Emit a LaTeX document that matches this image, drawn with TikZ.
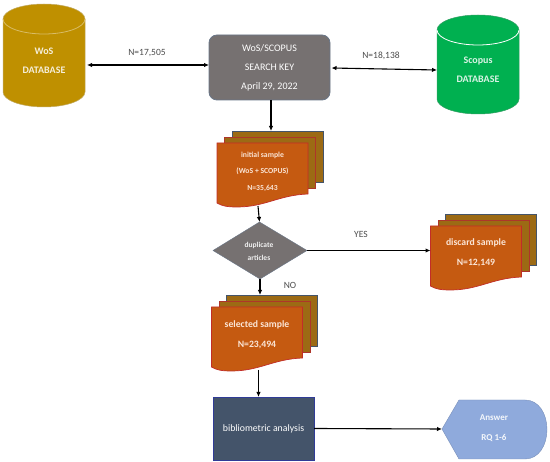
\documentclass[tikz,border=0pt]{standalone}
\usepackage{fontspec}
\setmainfont{Carlito}
\usetikzlibrary{arrows.meta}
\definecolor{wosgold}{HTML}{BF9000}
\definecolor{scopusgreen}{HTML}{00B050}
\definecolor{keygrey}{HTML}{767171}
\definecolor{sheetorange}{HTML}{C55A11}
\definecolor{sheetolive}{HTML}{9C6A14}
\definecolor{slateblue}{HTML}{44546A}
\definecolor{answerblue}{HTML}{8FAADC}
\definecolor{sheettext}{HTML}{FBE5D6}
\tikzset{
  anchorbox/.style={inner sep=0pt,outer sep=0pt},
  flowarrow/.style={line width=1.1pt,black,-{Latex[length=5pt,width=4.5pt]}},
  twoarrow/.style={line width=1.1pt,black,{Latex[length=5pt,width=4.5pt]}-{Latex[length=5pt,width=4.5pt]}},
  countlabel/.style={text=black!70,font=\fontsize{9.5}{11}\selectfont},
  boldwhite/.style={text=white,align=center,font=\fontsize{10}{19}\selectfont\bfseries},
  bigsheet/.style={text=sheettext,align=center,font=\fontsize{9.7}{20}\selectfont\bfseries},
}
\newcommand{\dbdrum}[6]{
\begin{scope}[xshift=#1pt,yshift=-#2pt]
    \draw[#4!75!black!80!#6,fill=#4,line width=0.5pt] (-#3,0) -- (-#3,#5) arc (180:360:#3 pt and 15pt) -- (#3,0) arc (0:180:#3 pt and 15pt);
    \draw[#6,line width=0.8pt] (-#3,0) arc (180:360:#3 pt and 15pt);
\end{scope}
}
\newcommand{\sheetrect}[3]{
\draw[#3,fill=sheetolive,line width=0.7pt] (#1,#2) rectangle ++(91,51);
}
\newcommand{\sheetstack}[3]{
\sheetrect{#1+15}{#2-12}{slateblue}
\sheetrect{#1+7.5}{#2-6}{purple!50!sheetolive}
\begin{scope}[xshift=#1pt,yshift=-#2pt]
    \draw[purple!50!sheetorange,fill=sheetorange,line width=0.7pt] (0,0) -- (91,0) -- (91,51) .. controls (62,52) and (48,64) .. (20,64) .. controls (10,64) and (5,63) .. (0,60) -- cycle;
    \node[anchorbox,minimum width=91pt,minimum height=63pt] (#3) at (45.5,31.5) {};
\end{scope}
\node[anchorbox,minimum width=91pt,minimum height=51pt] (#3back) at (#1+60.5,#2+13.5) {};
}

\begin{document}
\begin{tikzpicture}[x=1pt,y=-1pt]
    \useasboundingbox (0,0) rectangle (550,462);
    % databases
    \dbdrum{44}{19}{41}{wosgold}{73}{wosgold!60!white}
    \dbdrum{478}{30}{41}{scopusgreen}{69}{white}
    \node[anchorbox,minimum width=82pt,minimum height=103pt] (wos) at (44,55.5) {};
    \node[anchorbox,minimum width=82pt,minimum height=101pt] (scopus) at (478,63.5) {};
    \node[boldwhite,text=wosgold!15!white] (wostext) at (44,60.5) {WoS\\DATABASE};
    \node[boldwhite,text=white!85!scopusgreen] (scopustext) at (478,69.5) {Scopus\\DATABASE};
    % search key
    \node[anchorbox,draw=slateblue!80,fill=keygrey,rounded corners=8pt,thick,minimum width=121pt,minimum height=65pt,
        text=white,align=center,font=\fontsize{10}{19}\selectfont] (searchkey) at (269.5,67.5) {WoS/SCOPUS\\SEARCH KEY\\April 29, 2022};
    \draw[twoarrow] ([yshift=-9.5pt,xshift=2pt]wos.east) -- ([yshift=-9.5pt]wos.east -| searchkey.west);
    \draw[twoarrow] ([yshift=-0.5pt,xshift=1.5pt]searchkey.east) -- ([yshift=-6.5pt]scopus.west);
    \node[countlabel] (wosn) at (147,53) {N=17,505};
    \node[countlabel] (scopusn) at (381,56) {N=18,138};
    % samples
    \sheetstack{217}{143}{initial}
    \sheetstack{430.5}{226}{discard}
    \sheetstack{211.5}{307}{selected}
    \node[text=sheettext,align=center,font=\fontsize{7.7}{16.5}\selectfont\bfseries] (initialtext) at (262.5,171.5) {initial sample\\(WoS + SCOPUS)\\N=35,643};
    \node[bigsheet] (discardtext) at (476,253) {discard sample\\N=12,149};
    \node[bigsheet] (selectedtext) at (257,334.5) {selected sample\\N=23,494};
    % decision
    \path[fill=keygrey,draw=slateblue!80] (213,250.5) coordinate (dleft) -- (259.5,222) coordinate (dtop) -- (307,250.5) coordinate (dright) -- (260,279) coordinate (dbottom) -- cycle;
    \node[text=white!90!keygrey,align=center,font=\fontsize{7.5}{12.5}\selectfont\bfseries] (duptext) at (259,251.5) {duplicate\\articles};
    % analysis
    \node[anchorbox,draw=slateblue!70!blue,fill=slateblue,minimum width=101pt,minimum height=63pt,text=white,font=\fontsize{9.8}{11}\selectfont] (analysis) at (263.5,428.5) {bibliometric analysis};
    \draw[draw=answerblue!70!slateblue,fill=answerblue] (442,429) coordinate (answertip) -- (459,400) -- (525,400) .. controls (539,400) and (547,414) .. (547,429.5) .. controls (547,445) and (539,459) .. (525,459) -- (459,459) -- cycle;
    \node[text=white!90!answerblue,align=center,font=\fontsize{9}{20}\selectfont\bfseries] (answertext) at (494,428.5) {Answer\\RQ 1-6};
    % connectors
    \draw[flowarrow] ([xshift=1.5pt]searchkey.south) -- ([xshift=1.5pt]searchkey.south |- initialback.north);
    \draw[flowarrow] ([xshift=-4.5pt]initial.south) -- (dtop);
    \draw[flowarrow] (dright) -- (dright -| discard.west);
    \draw[flowarrow] (dbottom) -- (dbottom |- selectedback.north);
    \draw[flowarrow] ([xshift=1.5pt]selected.south) -- ([xshift=1.5pt]selected.south |- analysis.north);
    \draw[flowarrow] (analysis.east) -- (answertip);
    \node[countlabel] (yeslabel) at (361,234) {YES};
    \node[countlabel] (nolabel) at (290,285) {NO};
\end{tikzpicture}
\end{document}
